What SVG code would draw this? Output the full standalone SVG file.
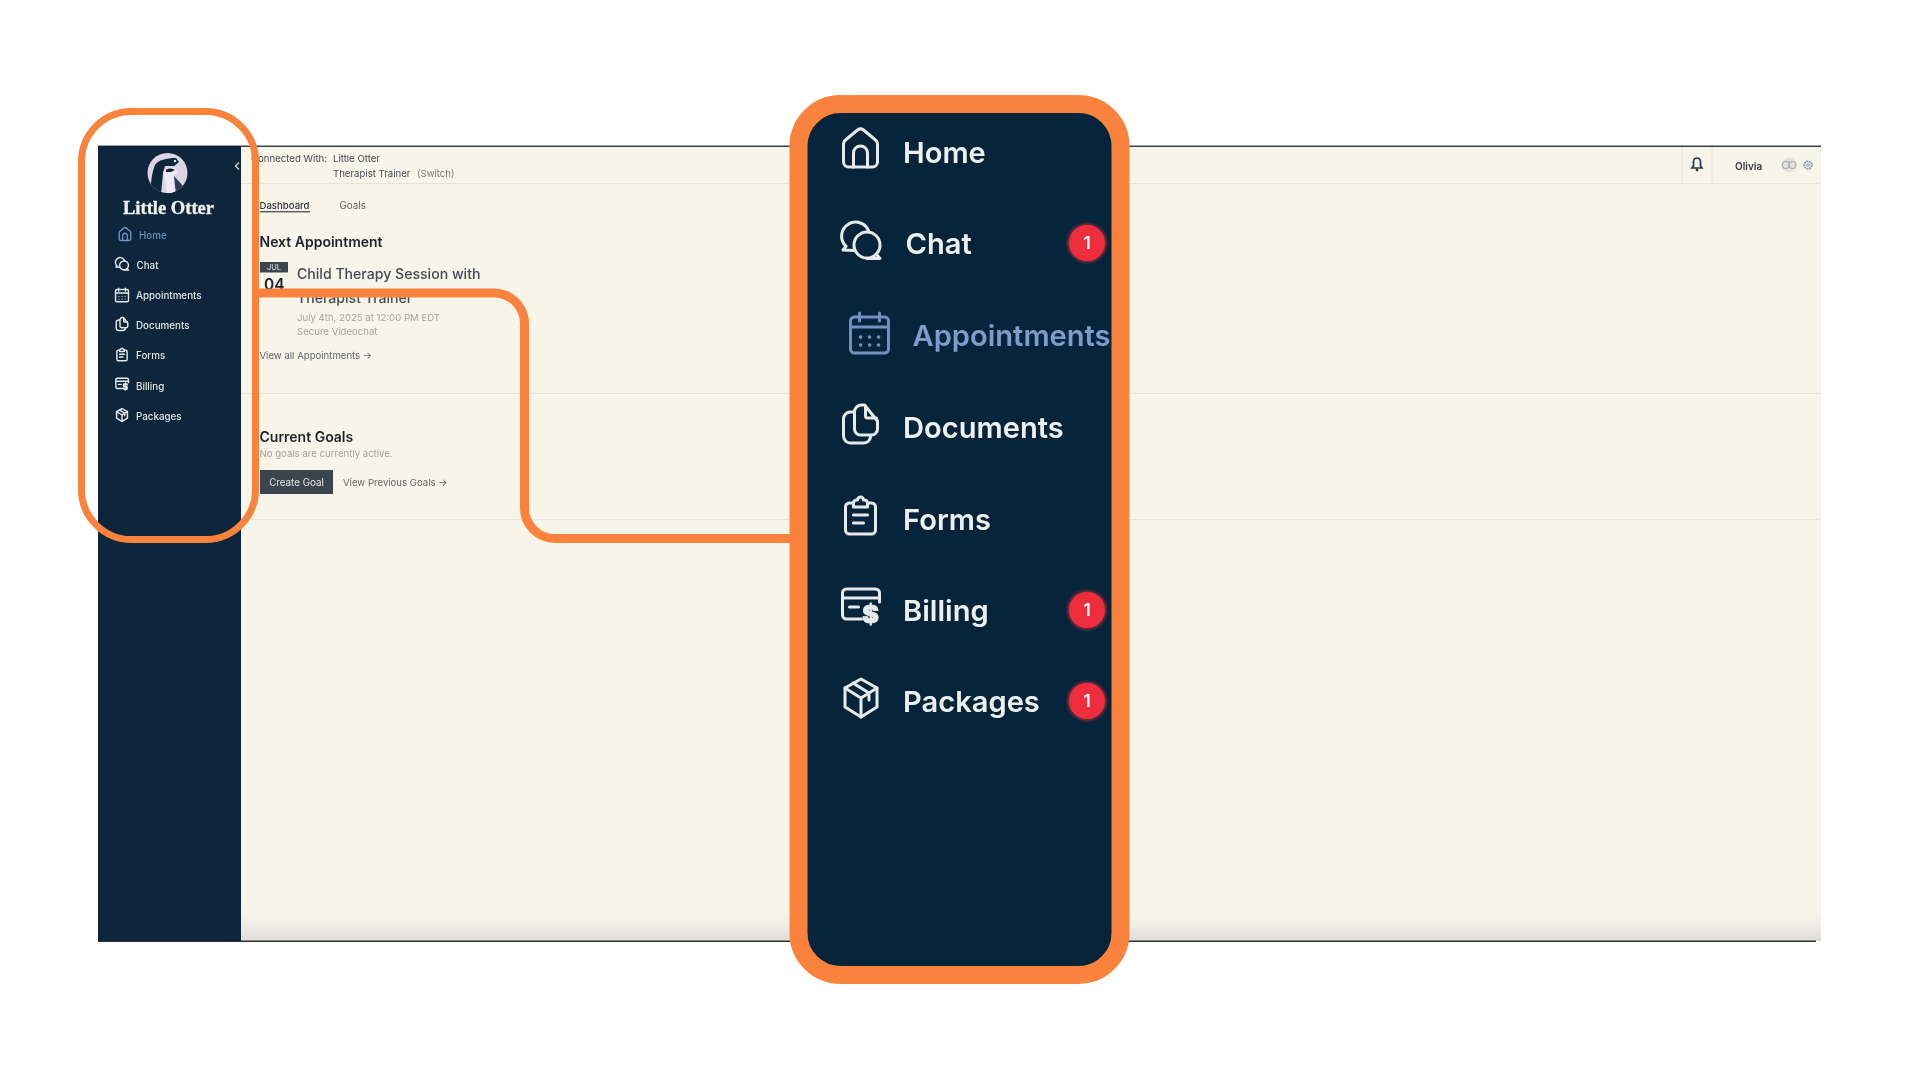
<svg xmlns="http://www.w3.org/2000/svg" width="1920" height="1080" viewBox="0 0 1920 1080">
<style>
text{font-family:Inter,"Liberation Sans",sans-serif}
.nav{font-size:9.8px;font-weight:500;fill:#e6e7e3}
.big{font-size:29.100px;font-weight:600;fill:#eef0ee}
.t10{font-size:9.600px;fill:#454b50}
.gray{font-size:9.600px;fill:#a3a39c}
.h{font-size:14px;font-weight:600;fill:#1c242b}
.ic{fill:none;stroke:#e8eaea;stroke-width:3;stroke-linecap:round;stroke-linejoin:round}
.ic.blue{stroke:#6f90c2}
.sm{stroke-width:4.200}
.ring{fill:none;stroke:#f9833c}
.div{stroke:#e6e4da;stroke-width:1}
.badge{fill:#ee2f3d}
.bt{font-size:17px;font-weight:600;fill:#fff;text-anchor:middle}
</style>
<defs>
<linearGradient id="shade" x1="0" y1="0" x2="0" y2="1"><stop offset="0" stop-color="#f7f4ea" stop-opacity="0"/><stop offset="1" stop-color="#dcdbd5"/></linearGradient>
<clipPath id="logoclip"><circle cx="167.500" cy="173" r="20"/></clipPath>
<filter id="soft" x="-5%" y="-5%" width="110%" height="110%"><feGaussianBlur stdDeviation="0.5"/></filter>
<filter id="glow" x="-30%" y="-30%" width="160%" height="160%"><feGaussianBlur stdDeviation="1"/></filter>
<g id="i-home"><path d="M-12 19H12a5 5 0 0 0 5-5V-4a5 5 0 0 0-2-4L3-18a5 5 0 0 0-6 0L-15-8a5 5 0 0 0-2 4V14a5 5 0 0 0 5 5z"/><path d="M-7 19V5a7 7 0 0 1 14 0V19"/></g>
<g id="i-chat"><path d="M-15 5.300A14 14 0 1 1 8-9"/><path d="M-15 5.300L-18 9L-7 9.500"/><circle cx="6" cy="4" r="13"/><path d="M15 13L19 17.500H6"/></g>
<g id="i-cal"><rect x="-19" y="-16" width="38" height="36" rx="4"/><path d="M-19-6H19M-10-20V-12M10-20V-12"/><path stroke-width="3.500" d="M-9 4h.1M0 4h.1M9 4h.1M-9 12h.1M0 12h.1M9 12h.1"/></g>
<g id="i-doc"><path d="M-6-12H-10a7 7 0 0 0-7 7V12a7 7 0 0 0 7 7H3a7 7 0 0 0 7-6"/><path d="M-6-12V5a6 6 0 0 0 6 6H11a6 6 0 0 0 6-6V-3L4-19H1a7 7 0 0 0-7 7"/><path d="M5-18V-8a2 2 0 0 0 2 2H16"/></g>
<g id="i-form"><path d="M-7-14H-11a4 4 0 0 0-4 4V13a4 4 0 0 0 4 4H11a4 4 0 0 0 4-4V-10a4 4 0 0 0-4-4H7"/><path d="M-7-14a3 3 0 0 1 3-3H-3a3 3 0 0 1 6 0H4a3 3 0 0 1 3 3V-10H-7z"/><path d="M-7-2H7M-7 6H3"/></g>
<g id="i-bill"><path d="M1 13H-14a4 4 0 0 1-4-4V-13a4 4 0 0 1 4-4H15a4 4 0 0 1 4 4V-4"/><path d="M-18-8H19M-11 1H-2"/><text x="10" y="17" font-size="25" font-weight="900" fill="#e8eaea" stroke="#e8eaea" stroke-width=".8" text-anchor="middle">$</text></g>
<g id="i-pack"><path d="M0-19L16-10V9L0 19L-16 9V-10z"/><path d="M-16-10L0 0L16-10M0 0V19M-8-15L8-5V2"/></g>
</defs>
<rect width="1920" height="1080" fill="#fff"/>
<g id="screenshot" filter="url(#soft)">
<path d="M98 146H1821V936a5 5 0 0 1-5 5H98z" fill="#f7f4ea"/>
<rect x="241" y="905" width="1580" height="36" fill="url(#shade)"/>
<rect x="98" y="145.500" width="1723" height="1.500" fill="#3b4247"/>
<rect x="98" y="940.500" width="1718" height="1.500" fill="#2b3238"/>
<line class="div" x1="241" y1="183.500" x2="1821" y2="183.500"/>
<line class="div" x1="241" y1="393.500" x2="1821" y2="393.500"/>
<line class="div" x1="241" y1="519.500" x2="1821" y2="519.500"/>
<line class="div" x1="1682" y1="147" x2="1682" y2="183"/>
<line class="div" x1="1712" y1="147" x2="1712" y2="183"/>
<g id="sidebar">
<rect x="98" y="146" width="143" height="795" fill="#07253a"/>
<path d="M239 162.500L235.500 166L239 169.500" fill="none" stroke="#c9ced2" stroke-width="1.500"/>
<g id="logo">
<circle cx="167.500" cy="173" r="20" fill="#ddd3e6"/>
<g clip-path="url(#logoclip)">
<path d="M155 165C158 160 167 158 176 158L179 162L174 166H165L163 173L161 194H150C151 182 152 172 155 165z" fill="#07253a"/>
<path d="M163 172C166 168 172 167 176 169L178 172L173 176L175 194H167C166 186 165 178 163 172z" fill="#f0ebf2"/>
<path d="M166 170C168 168 172 168 175 170L171 172H166z" fill="#07253a"/>
<path d="M174 176L183 186L176 194z" fill="#2a3d52"/>
<circle cx="175" cy="161" r="1.300" fill="#f0ebf2"/>
</g>
</g>
<text x="123" y="214" font-size="19" font-weight="700" fill="#f2f0ea" stroke="#f2f0ea" stroke-width=".35" textLength="91" lengthAdjust="spacingAndGlyphs" style="font-family:'Liberation Serif',serif">Little Otter</text>
<g id="nav-home"><use href="#i-home" class="ic blue sm" transform="translate(125 234) scale(.34)"/><text class="nav" x="139" y="239" style="fill:#6f90c2">Home</text></g>
<g id="nav-chat"><use href="#i-chat" class="ic sm" transform="translate(122 264) scale(.34)"/><text class="nav" x="136.500" y="268.800">Chat</text></g>
<g id="nav-appointments"><use href="#i-cal" class="ic sm" transform="translate(122 295) scale(.34)"/><text class="nav" x="136" y="299">Appointments</text></g>
<g id="nav-documents"><use href="#i-doc" class="ic sm" transform="translate(122 324) scale(.34)"/><text class="nav" x="136" y="329.200">Documents</text></g>
<g id="nav-forms"><use href="#i-form" class="ic sm" transform="translate(122 355) scale(.34)"/><text class="nav" x="136" y="359.400">Forms</text></g>
<g id="nav-billing"><use href="#i-bill" class="ic sm" transform="translate(122 384) scale(.34)"/><text class="nav" x="136" y="389.600">Billing</text></g>
<g id="nav-packages"><use href="#i-pack" class="ic sm" transform="translate(122 415) scale(.34)"/><text class="nav" x="136" y="419.800">Packages</text></g>
</g>
<g id="header">
<text class="t10" x="251" y="162" textLength="76">Connected With:</text>
<text class="t10" x="333" y="162">Little Otter</text>
<text class="t10" x="333" y="177">Therapist Trainer</text>
<text class="t10" x="417" y="177" style="fill:#77797a">(Switch)</text>
<path d="M1697 158c-2.500 0-3.500 2-3.500 4v4l-1.500 2h10l-1.500-2v-4c0-2-1-4-3.500-4z" fill="none" stroke="#263a4b" stroke-width="1.700"/>
<circle cx="1697" cy="170" r="1.400" fill="#263a4b"/>
<text x="1735" y="170" font-size="10" font-weight="600" fill="#333a40">Olivia</text>
<circle cx="1789" cy="165" r="7.500" fill="#e3e2dd"/>
<circle cx="1786" cy="165" r="3.500" fill="none" stroke="#a9acae" stroke-width="1.200"/>
<circle cx="1792.500" cy="165" r="3.500" fill="none" stroke="#a9acae" stroke-width="1.200"/>
<circle cx="1808" cy="165" r="3.800" fill="none" stroke="#8fa0ad" stroke-width="1.800" stroke-dasharray="2 .6"/>
<circle cx="1808" cy="165" r="1.400" fill="none" stroke="#8fa0ad"/>
</g>
<g id="tabs">
<text x="259.500" y="209" font-size="9.600" font-weight="500" fill="#2d3439">Dashboard</text>
<rect x="260" y="211" width="50" height="1.400" fill="#555a5e"/>
<text x="339.500" y="209" font-size="9.800" fill="#5a5f62">Goals</text>
</g>
<g id="next-appointment">
<text class="h" x="259.500" y="247">Next Appointment</text>
<rect x="260" y="262" width="28" height="10.500" fill="#3a4550"/>
<text x="274" y="270" font-size="7.500" fill="#e3e4e2" text-anchor="middle">JUL</text>
<text x="264" y="290" font-size="15.500" font-weight="600" fill="#1c242b">04</text>
<text x="297" y="279" font-size="14.100" font-weight="500" fill="#434c53">Child Therapy Session with</text>
<text x="297" y="303" font-size="14.100" font-weight="500" fill="#434c53">Therapist Trainer</text>
<text class="gray" x="297" y="321">July 4th, 2025 at 12:00 PM EDT</text>
<text class="gray" x="297" y="335">Secure Videochat</text>
<text class="t10" x="259.500" y="359" style="fill:#5f6468">View all Appointments →</text>
</g>
<g id="current-goals">
<text class="h" x="259.500" y="442">Current Goals</text>
<text class="gray" x="259.500" y="457">No goals are currently active.</text>
<rect x="260" y="470" width="73" height="24" fill="#3a4550"/>
<text x="296.500" y="486" font-size="9.800" fill="#e8e8e5" text-anchor="middle">Create Goal</text>
<text class="t10" x="343" y="486" style="fill:#5f6468">View Previous Goals →</text>
</g>
</g>
<g id="connectors">
<path class="ring" stroke-width="9" d="M256 293H494a30.500 30.500 0 0 1 30.500 30.500V508a30.500 30.500 0 0 0 30.500 30.500H792"/>
</g>
<g id="callout-small">
<rect class="ring" x="81.500" y="111.500" width="174" height="428" rx="50" stroke-width="7"/>
</g>
<g id="callout-large">
<rect x="798.500" y="104" width="322" height="871" rx="42" fill="#07253a" stroke="#f9833c" stroke-width="18"/>
<g id="item-home" filter="url(#soft)"><use href="#i-home" class="ic" transform="translate(860.500 148)"/><text class="big" x="903" y="163">Home</text></g>
<g id="item-chat" filter="url(#soft)"><use href="#i-chat" class="ic" transform="translate(861 241)"/><text class="big" x="905.500" y="254">Chat</text>
<circle cx="1087" cy="243" r="20" fill="#ee2f3d" opacity=".45" filter="url(#glow)"/><circle class="badge" cx="1087" cy="243" r="18"/><text class="bt" x="1087" y="249">1</text></g>
<g id="item-appointments" filter="url(#soft)"><use href="#i-cal" class="ic blue" transform="translate(869.500 333)"/><text class="big" x="912.500" y="346" style="fill:#7b9cc9">Appointments</text></g>
<g id="item-documents" filter="url(#soft)"><use href="#i-doc" class="ic" transform="translate(860.500 424)"/><text class="big" x="903" y="438">Documents</text></g>
<g id="item-forms" filter="url(#soft)"><use href="#i-form" class="ic" transform="translate(860.500 517)"/><text class="big" x="903" y="529.500">Forms</text></g>
<g id="item-billing" filter="url(#soft)"><use href="#i-bill" class="ic" transform="translate(860.500 606)"/><text class="big" x="903" y="621">Billing</text>
<circle cx="1087" cy="610" r="20" fill="#ee2f3d" opacity=".45" filter="url(#glow)"/><circle class="badge" cx="1087" cy="610" r="18"/><text class="bt" x="1087" y="616">1</text></g>
<g id="item-packages" filter="url(#soft)"><use href="#i-pack" class="ic" transform="translate(861 698)"/><text class="big" x="903" y="712">Packages</text>
<circle cx="1087" cy="701" r="20" fill="#ee2f3d" opacity=".45" filter="url(#glow)"/><circle class="badge" cx="1087" cy="701" r="18"/><text class="bt" x="1087" y="707">1</text></g>
</g>
</svg>
